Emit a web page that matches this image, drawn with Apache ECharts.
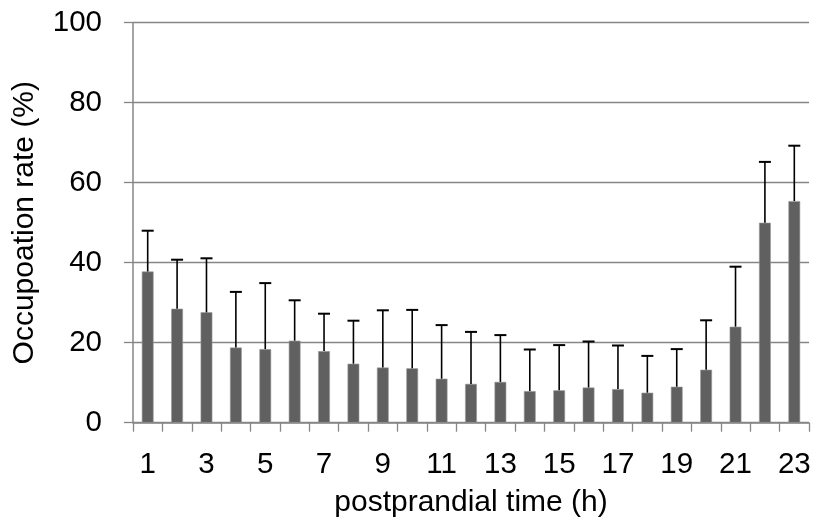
<!DOCTYPE html>
<html>
<head>
<meta charset="utf-8">
<script src="https://cdn.jsdelivr.net/npm/echarts@6/dist/echarts.min.js"></script>
<style>
html,body{margin:0;padding:0;background:#fff;}
#chart{width:814px;height:524px;}
</style>
</head>
<body>
<div id="chart"></div>
<script>
var categories = ['1','2','3','4','5','6','7','8','9','10','11','12','13','14','15','16','17','18','19','20','21','22','23'];
var means = [37.8, 28.5, 27.6, 18.8, 18.4, 20.5, 17.9, 14.75, 13.8, 13.6, 11.0, 9.7, 10.2, 7.9, 8.1, 8.8, 8.4, 7.5, 9.0, 13.25, 24.0, 50.0, 55.4];
var sds = [10.2, 12.25, 13.5, 13.9, 16.5, 10.1, 9.35, 10.75, 14.3, 14.6, 13.4, 13.0, 11.7, 10.4, 11.3, 11.5, 10.9, 9.2, 9.4, 12.35, 15.0, 15.2, 13.85];
var yTicks = [0, 20, 40, 60, 80, 100];

var errData = means.map(function (m, i) { return [i, m, m + sds[i]]; });

var chart = echarts.init(document.getElementById('chart'), null, {renderer: 'canvas'});
var font = 'Liberation Sans, Arial, sans-serif';
chart.setOption({
  animation: false,
  grid: {left: 133, right: 5, top: 22.7, bottom: 101.3, containLabel: false},
  xAxis: {
    type: 'category',
    data: categories,
    boundaryGap: true,
    name: 'postprandial time (h)',
    nameLocation: 'middle',
    nameGap: 65,
    nameTextStyle: {fontSize: 30, color: '#000', fontFamily: font},
    axisLine: {show: true, lineStyle: {color: '#868686', width: 1.5}},
    axisTick: {show: true, interval: 0, length: 9, lineStyle: {color: '#868686', width: 1.3}},
    axisLabel: {interval: 1, fontSize: 29.5, color: '#000', fontFamily: font, margin: 27}
  },
  yAxis: {
    type: 'value',
    min: yTicks[0],
    max: yTicks[yTicks.length - 1],
    interval: 20,
    name: 'Occupoation rate (%)',
    nameLocation: 'middle',
    nameGap: 93,
    nameTextStyle: {fontSize: 30, color: '#000', fontFamily: font},
    axisLine: {show: true, lineStyle: {color: '#868686', width: 1.5}},
    axisTick: {show: true, length: 9, lineStyle: {color: '#868686', width: 1.3}},
    axisLabel: {fontSize: 29.5, color: '#000', fontFamily: font, margin: 31},
    splitLine: {show: true, lineStyle: {color: '#868686', width: 1.3}}
  },
  series: [
    {
      type: 'bar',
      data: means,
      barWidth: '40%',
      itemStyle: {color: '#606060', borderColor: '#9a9a9a', borderWidth: 0.6},
      z: 2
    },
    {
      type: 'custom',
      data: errData,
      z: 3,
      renderItem: function (params, api) {
        var x = api.value(0);
        var lo = api.coord([x, api.value(1)]);
        var hi = api.coord([x, api.value(2)]);
        var half = 6;
        return {
          type: 'group',
          children: [
            {type: 'line', shape: {x1: lo[0], y1: lo[1], x2: hi[0], y2: hi[1]}, style: {stroke: '#000', lineWidth: 1.6}},
            {type: 'line', shape: {x1: hi[0] - half, y1: hi[1], x2: hi[0] + half, y2: hi[1]}, style: {stroke: '#000', lineWidth: 2}}
          ]
        };
      }
    }
  ]
});
</script>
</body>
</html>
